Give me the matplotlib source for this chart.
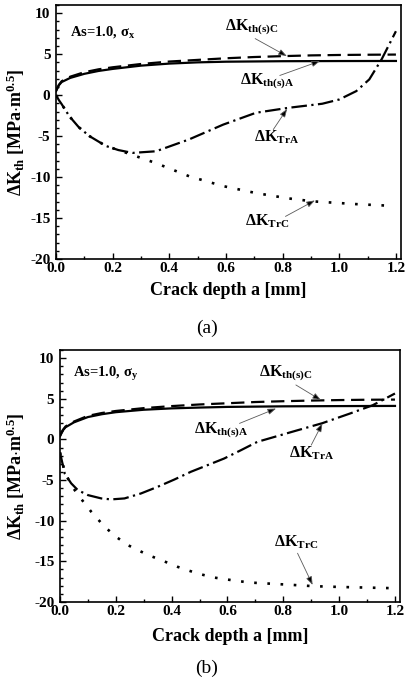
import matplotlib
matplotlib.use("Agg")
import matplotlib.pyplot as plt
from matplotlib.ticker import MultipleLocator

plt.rcParams['font.family'] = 'Liberation Serif'
plt.rcParams['mathtext.fontset'] = 'custom'
plt.rcParams['mathtext.rm'] = 'Liberation Serif'
plt.rcParams['mathtext.it'] = 'Liberation Serif:italic'
plt.rcParams['mathtext.bf'] = 'Liberation Serif:bold'
plt.rcParams['axes.unicode_minus'] = False

# ---- panel (a): sigma_x ----
a_thA_x = [0, 0.01, 0.02, 0.05, 0.1, 0.15, 0.2, 0.3, 0.4, 0.5, 0.6, 0.8, 1.0, 1.2]
a_thA_y = [0.5, 1.2, 1.6, 2.1, 2.6, 2.95, 3.2, 3.6, 3.85, 4.0, 4.08, 4.14, 4.16, 4.17]

a_thC_x = [0, 0.01, 0.02, 0.05, 0.1, 0.15, 0.2, 0.3, 0.4, 0.5, 0.6, 0.7, 0.8, 0.9, 1.0, 1.1, 1.2]
a_thC_y = [0.5, 1.25, 1.7, 2.25, 2.8, 3.15, 3.4, 3.8, 4.1, 4.3, 4.5, 4.65, 4.76, 4.85, 4.9, 4.93, 4.95]

a_trA_x = [0, 0.01, 0.02, 0.047, 0.08, 0.118, 0.176, 0.22, 0.27, 0.353, 0.47, 0.59, 0.706,
           0.82, 0.94, 1.0, 1.06, 1.106, 1.15, 1.2]
a_trA_y = [0, -0.6, -1.1, -2.57, -3.9, -5.0, -6.2, -6.7, -7.05, -6.85, -5.4, -3.6, -2.15,
           -1.55, -1.05, -0.53, 0.49, 1.92, 4.4, 7.8]

a_trC_x = [0, 0.01, 0.02, 0.047, 0.08, 0.118, 0.176, 0.22, 0.27, 0.353, 0.47, 0.59, 0.706,
           0.82, 0.906, 1.06, 1.18]
a_trC_y = [0, -0.6, -1.1, -2.57, -3.9, -5.0, -6.2, -6.7, -7.3, -8.3, -9.9, -11.1, -11.95,
           -12.6, -12.96, -13.3, -13.5]

# ---- panel (b): sigma_y ----
b_thA_x = [0, 0.01, 0.02, 0.05, 0.1, 0.15, 0.2, 0.3, 0.4, 0.5, 0.6, 0.8, 1.0, 1.2]
b_thA_y = [0.4, 1.1, 1.5, 2.1, 2.75, 3.1, 3.35, 3.65, 3.82, 3.92, 4.0, 4.07, 4.1, 4.12]

b_thC_x = [0, 0.01, 0.02, 0.05, 0.1, 0.15, 0.2, 0.3, 0.4, 0.5, 0.6, 0.7, 0.8, 0.9, 1.0, 1.1, 1.2]
b_thC_y = [0.4, 1.15, 1.6, 2.2, 2.9, 3.25, 3.5, 3.85, 4.1, 4.3, 4.45, 4.6, 4.7, 4.78, 4.84, 4.88, 4.9]

b_trA_x = [0, 0.017, 0.04, 0.064, 0.1, 0.148, 0.183, 0.231, 0.29, 0.35, 0.41, 0.469, 0.529,
           0.588, 0.648, 0.707, 0.833, 0.94, 1.04, 1.12, 1.2]
b_trA_y = [-1.6, -4.2, -5.4, -6.24, -6.85, -7.26, -7.38, -7.26, -6.65, -5.83, -4.93, -3.98, -3.16,
           -2.35, -1.33, -0.3, 0.95, 2.0, 3.2, 4.2, 5.65]

b_trC_x = [0, 0.017, 0.04, 0.07, 0.112, 0.16, 0.201, 0.243, 0.314, 0.362, 0.421, 0.493, 0.553,
           0.612, 0.677, 0.833, 0.905, 1.0, 1.19]
b_trC_y = [-1.6, -3.98, -5.62, -7.06, -8.9, -10.75, -11.98, -13.0, -14.2, -14.84, -15.67, -16.5, -17.0,
           -17.3, -17.6, -17.9, -18.05, -18.15, -18.3]

LBL_C = r'$\mathbf{\Delta K_{th(s)C}}$'
LBL_A = r'$\mathbf{\Delta K_{th(s)A}}$'
LBL_TRA = r'$\mathbf{\Delta K_{TrA}}$'
LBL_TRC = r'$\mathbf{\Delta K_{TrC}}$'

fig = plt.figure(figsize=(4.1, 6.84), dpi=100)
axA = fig.add_axes([0.1366, 0.6213, 0.8415, 0.3714])
axB = fig.add_axes([0.1463, 0.1199, 0.8293, 0.3684])


def draw(ax, thA, thC, trA, trC):
    ax.plot(thA[0], thA[1], color='k', lw=1.6, ls='-')
    ax.plot(thC[0], thC[1], color='k', lw=1.6, ls=(0, (6, 3)))
    ax.plot(trA[0], trA[1], color='k', lw=1.6, ls=(0, (7, 2, 1, 2)))
    ax.plot(trC[0], trC[1], color='k', lw=1.9, ls=(0, (1, 4)))
    ax.set_xlim(0, 1.218)
    ax.set_ylim(-20, 11)
    ax.xaxis.set_major_locator(MultipleLocator(0.2))
    ax.xaxis.set_minor_locator(MultipleLocator(0.1))
    ax.yaxis.set_major_locator(MultipleLocator(5))
    ax.yaxis.set_minor_locator(MultipleLocator(1))
    ax.tick_params(which='both', direction='in', width=1.0, labelsize=11)
    ax.tick_params(which='major', length=4.5)
    ax.tick_params(which='minor', length=2.5)
    ax.tick_params(axis='x', pad=2)
    ax.tick_params(axis='y', pad=4)
    for t in ax.get_xticklabels() + ax.get_yticklabels():
        t.set_fontweight('bold')
    ax.xaxis.set_major_formatter(plt.FuncFormatter(lambda v, p: f"{v:.1f}"))
    ax.yaxis.set_major_formatter(plt.FuncFormatter(lambda v, p: f"{v:.0f}"))
    for s in ax.spines.values():
        s.set_linewidth(1.2)
    ax.set_xlabel('Crack depth a [mm]', fontsize=13, fontweight='bold')
    ax.set_ylabel(r'$\mathbf{\Delta K_{th}\ [MPa{\cdot}m^{0.5}]}$', fontsize=13)


def note(ax, text, txy, start, tip):
    ax.text(txy[0], txy[1], text, fontsize=11.5, ha='center', va='center')
    ax.annotate('', xy=tip, xytext=start,
                arrowprops=dict(arrowstyle='-|>,head_length=0.5,head_width=0.18',
                                fc='k', ec='0.35', lw=0.6, shrinkA=0, shrinkB=0))


draw(axA, (a_thA_x, a_thA_y), (a_thC_x, a_thC_y), (a_trA_x, a_trA_y), (a_trC_x, a_trC_y))
draw(axB, (b_thA_x, b_thA_y), (b_thC_x, b_thC_y), (b_trA_x, b_trA_y), (b_trC_x, b_trC_y))

axA.text(0.05, 7.7, r'As=1.0, $\mathbf{\sigma_x}$', fontsize=10.5, fontweight='bold', va='center')
note(axA, LBL_C, (0.69, 8.3), (0.703, 6.9), (0.815, 4.76))
note(axA, LBL_A, (0.744, 1.7), (0.79, 2.4), (0.932, 4.16))
note(axA, LBL_TRA, (0.78, -5.2), (0.767, -4.2), (0.816, -1.67))
note(axA, LBL_TRC, (0.744, -15.4), (0.81, -14.8), (0.914, -12.85))

axB.text(0.045, 8.1, r'As=1.0, $\mathbf{\sigma_y}$', fontsize=10.5, fontweight='bold', va='center')
note(axB, LBL_C, (0.81, 8.15), (0.845, 6.7), (0.935, 4.83))
note(axB, LBL_A, (0.577, 1.15), (0.643, 1.97), (0.774, 3.8))
note(axB, LBL_TRA, (0.9, -1.7), (0.9, -0.7), (0.94, 1.97))
note(axB, LBL_TRC, (0.845, -12.6), (0.851, -14.0), (0.905, -17.9))

axA.xaxis.set_label_coords(0.5, -0.09)
axB.xaxis.set_label_coords(0.5, -0.103)
axA.yaxis.set_label_coords(-0.084, 0.5)
axB.yaxis.set_label_coords(-0.097, 0.5)

fig.text(0.505, 0.5205, '(a)', fontsize=14, ha='center', va='center')
fig.text(0.505, 0.0234, '(b)', fontsize=14, ha='center', va='center')

fig.savefig('out.png', dpi=100)
